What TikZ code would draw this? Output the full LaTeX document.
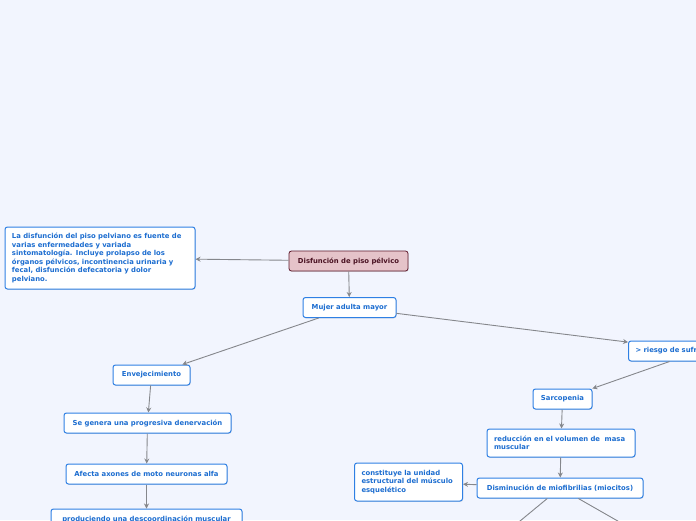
\documentclass[tikz,border=0pt]{standalone}
\usepackage{fontspec}
\setmainfont{DejaVu Sans}
\usetikzlibrary{arrows.meta, positioning, shadows}
\definecolor{bgpaper}{HTML}{F2F5FE}
\definecolor{topicblue}{HTML}{2F80E4}
\definecolor{topictext}{HTML}{1C6DD0}
\definecolor{rootfill}{HTML}{E5C3C9}
\definecolor{rootdraw}{HTML}{5E1A2C}
\definecolor{roottext}{HTML}{4A1222}
\definecolor{arrowgray}{HTML}{85878C}

\begin{document}
\begin{tikzpicture}[
    x=1pt, y=-1pt,
    every node/.style={font=\bfseries\fontsize{6.85}{8.5}\selectfont},
    topic/.style={
        draw=topicblue, fill=white, text=topictext,
        rounded corners=2.5pt, line width=1pt,
        minimum height=20pt, inner xsep=7pt, inner ysep=2pt,
        drop shadow={shadow xshift=0.6pt, shadow yshift=-0.8pt, opacity=0.25}
    },
    note/.style={topic, align=left, text width=#1},
    central/.style={
        draw=rootdraw, fill=rootfill, text=roottext,
        rounded corners=2.5pt, line width=0.8pt,
        minimum height=20pt, minimum width=119pt,
        drop shadow={shadow xshift=0.6pt, shadow yshift=-0.8pt, opacity=0.25}
    },
    arr/.style={
        -{Stealth[length=5pt, width=5pt]},
        line width=0.9pt,
        color=arrowgray
    }
]
\useasboundingbox[fill=bgpaper] (0,0) rectangle (696,520);

% Nodes
\node[central] (root) at (348.5,261) {Disfunción de piso pélvico};

\node[note=176pt, minimum height=62pt] (info) at (100,258)
    {La disfunción del piso pelviano es fuente de\\
     varias enfermedades y variada\\
     sintomatología. Incluye prolapso de los\\
     órganos pélvicos, incontinencia urinaria y\\
     fecal, disfunción defecatoria y dolor\\
     pelviano.};

\node[topic, minimum width=93pt] (mujer) at (349.5,307.5) {Mujer adulta mayor};

\node[note=128pt, anchor=west] (riesgo) at (628,351) {> riesgo de sufrir};

% left branch
\node[topic, minimum width=77pt] (envej) at (151.5,375) {Envejecimiento};
\node[topic, minimum width=167pt] (denerv) at (147.5,423) {Se genera una progresiva denervación};
\node[topic, minimum width=161pt] (axones) at (146.5,474) {Afecta axones de moto neuronas alfa};
\node[topic, minimum width=191pt] (descoord) at (146.5,519) {produciendo una descoordinación muscular};

% right branch
\node[topic, minimum width=59pt] (sarco) at (562.5,399) {Sarcopenia};
\node[note=134pt, minimum height=28pt] (volumen) at (561,443)
    {reducción en el volumen de \ masa\\ muscular};
\node[topic, minimum width=166pt] (miofib) at (560,488) {Disminución de miofibrilias (miocitos)};
\node[note=94pt, minimum height=38pt] (unidad) at (408.5,482)
    {constituye la unidad\\ estructural del músculo\\ esquelético};

\coordinate (hijoA) at (497,540);
\coordinate (hijoB) at (651,540);

% Arrows
\draw[arr] (root) -- (info);
\draw[arr] (root) -- (mujer);
\draw[arr] (mujer) -- (envej);
\draw[arr] (mujer) -- (riesgo);
\draw[arr] (envej) -- (denerv);
\draw[arr] (denerv) -- (axones);
\draw[arr] (axones) -- (descoord);
\draw[arr] (riesgo) -- (sarco);
\draw[arr] (sarco) -- (volumen);
\draw[arr] (volumen) -- (miofib);
\draw[arr] (miofib) -- (unidad);
\draw[arr] (miofib) -- (hijoA);
\draw[arr] (miofib) -- (hijoB);

\end{tikzpicture}
\end{document}
